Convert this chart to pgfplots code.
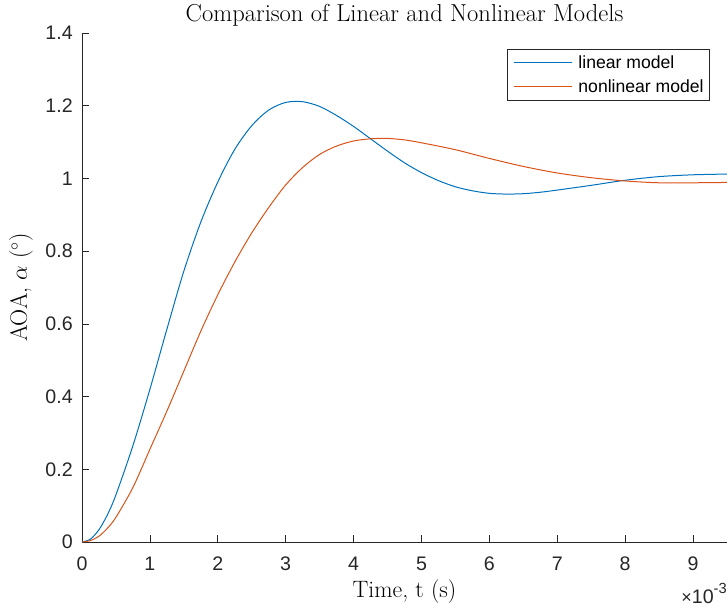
\documentclass[border=0pt]{standalone}
\usepackage{fontspec}
\usepackage{pgfplots}
\pgfplotsset{compat=1.18}
\newfontfamily\arial{Liberation Sans}
\definecolor{mblue}{rgb}{0,0.447,0.741}
\definecolor{morange}{rgb}{0.85,0.325,0.098}
\definecolor{axgray}{rgb}{0.15,0.15,0.15}
\begin{document}
\begin{tikzpicture}
\begin{axis}[
  scale only axis, width=483.75pt, height=381.75pt,
  xmin=0, xmax=9.5, ymin=0, ymax=1.4,
  xtick={0,1,2,3,4,5,6,7,8,9},
  ytick={0,0.2,0.4,0.6,0.8,1,1.2,1.4},
  axis x line*=bottom, axis y line*=left,
  axis line style={axgray, line width=0.5pt},
  tick style={axgray, line width=0.5pt},
  tick align=inside, major tick length=5pt,
  clip=false,
  /pgf/number format/assume math mode=true,
  ticklabel style={font=\arial\fontsize{14.7}{17}\selectfont, text=axgray},
  xticklabel style={inner sep=0pt, anchor=north, yshift=-11.25pt},
  yticklabel style={inner sep=0pt, anchor=east, xshift=-6.75pt},
  title={Comparison of Linear and Nonlinear Models},
  title style={at={(axis description cs:0.5,1)}, anchor=base, yshift=2.25pt, font=\fontsize{18.4}{22}\selectfont, inner sep=0pt},
  xlabel={Time, t (s)},
  xlabel style={at={(axis description cs:0.5,0)}, anchor=base, yshift=-41.25pt, font=\fontsize{17.8}{21}\selectfont, inner sep=0pt},
  ylabel={AOA, $\alpha$ ($^\circ$)},
  ylabel style={at={(axis description cs:0,0.5)}, anchor=base, rotate=0, yshift=41.25pt, font=\fontsize{17.8}{21}\selectfont, inner sep=0pt},
  legend style={at={(axis description cs:1,1)}, anchor=north east, xshift=-12.75pt, yshift=-12pt,
    draw=axgray, line width=0.5pt, font=\arial\fontsize{13.2}{15}\selectfont,
    inner xsep=4.5pt, inner ysep=4.5pt, row sep=7pt, cells={anchor=west},
    nodes={inner sep=0pt}},
  legend image code/.code={\draw[#1, line width=0.75pt] (0pt,0pt) -- (44pt,0pt);},
  /tikz/every odd column/.append style={column sep=4.3pt},
]
\addplot[mblue, line width=0.75pt, smooth] coordinates {
(0,0) (0.125,0.008) (0.25,0.034) (0.375,0.075) (0.5,0.13) (0.75,0.265) (1.0,0.42) (1.25,0.585) (1.5,0.745)
(1.75,0.88) (2.0,0.99) (2.25,1.08) (2.5,1.145) (2.75,1.188) (3.0,1.209) (3.25,1.211)
(3.5,1.198) (3.75,1.173) (4.0,1.143) (4.25,1.109) (4.5,1.075) (4.75,1.043) (5.0,1.016)
(5.25,0.994) (5.5,0.977) (5.75,0.966) (6.0,0.959) (6.25,0.957) (6.5,0.958) (6.75,0.962)
(7.0,0.968) (7.5,0.981) (8.0,0.995) (8.5,1.005) (9.0,1.010) (9.5,1.012)};
\addlegendentry{linear model}
\addplot[morange, line width=0.75pt, smooth] coordinates {
(0,0) (0.125,0.004) (0.25,0.016) (0.375,0.038) (0.5,0.068) (0.75,0.15) (1.0,0.255) (1.25,0.36) (1.5,0.47)
(1.75,0.58) (2.0,0.68) (2.25,0.77) (2.5,0.85) (2.75,0.92) (3.0,0.982) (3.25,1.03)
(3.5,1.066) (3.75,1.089) (4.0,1.103) (4.25,1.109) (4.5,1.110) (4.75,1.106) (5.0,1.098)
(5.5,1.079) (6.0,1.055) (6.5,1.033) (7.0,1.015) (7.5,1.002) (8.0,0.993) (8.5,0.988)
(9.0,0.988) (9.5,0.989)};
\addlegendentry{nonlinear model}
\node[anchor=base east, inner sep=0pt, font=\arial\fontsize{14.7}{17}\selectfont, text=axgray]
  at (rel axis cs:1,0) [yshift=-45.75pt] {{\fontsize{13.5}{15}\selectfont ×}10\raisebox{0.5em}{\fontsize{11}{13}\selectfont -3}};
\coordinate (BL) at (rel axis cs:0,0);
\coordinate (TR) at (rel axis cs:1,1);
\end{axis}
\pgfresetboundingbox
\path ([shift={(-61.5pt,-50.25pt)}]BL) rectangle ([shift={(0pt,24.75pt)}]TR);
\end{tikzpicture}
\end{document}
